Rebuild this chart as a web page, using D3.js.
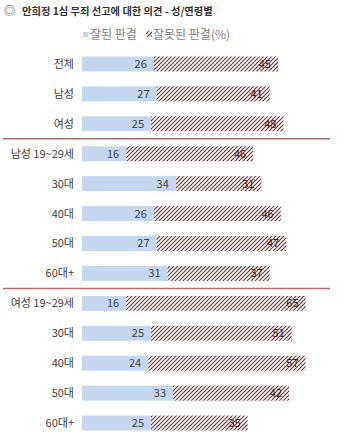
<!DOCTYPE html>
<html><head><meta charset="utf-8">
<script src="https://cdn.jsdelivr.net/npm/d3@7"></script>
<style>body{margin:0;background:#fff}svg{display:block}</style>
</head><body>
<script>
const categories = ["전체","남성","여성","남성 19~29세","30대","40대","50대","60대+","여성 19~29세","30대","40대","50대","60대+"];
const goodValues = [26,27,25,16,34,26,27,31,16,25,24,33,25];
const badValues  = [45,41,48,46,31,46,47,37,65,51,57,42,35];
const seriesNames = ["잘된 판결","잘못된 판결(%)"];
const separatorsAfter = [2,7];
const titleMark = "◎";
const title = "안희정 1심 무죄 선고에 대한 의견 - 성/연령별";

const W=350,H=443;
const font='"Noto Sans CJK KR","Noto Sans",sans-serif';
const svg=d3.select("body").append("svg").attr("width",W).attr("height",H);
const defs=svg.append("defs");
const pat=defs.append("pattern").attr("id","hatch").attr("patternUnits","userSpaceOnUse")
  .attr("width",4).attr("height",4);
pat.append("rect").attr("width",4).attr("height",4).attr("fill","#fff");
pat.append("path").attr("d","M-1,1 l2,-2 M0,4 l4,-4 M3,5 l2,-2")
  .attr("stroke","#6a2e2e").attr("stroke-width",1.1);

const x=d3.scaleLinear().domain([0,90]).range([82,82+248.4]);
const idx=d3.range(categories.length);
const y=d3.scaleBand().domain(idx).range([49,438]).paddingInner(0.5).paddingOuter(0.25);

// title
svg.append("text").attr("x",4).attr("y",15).attr("font-family",font).attr("font-size",11)
  .attr("fill","#333").text(titleMark);
const t=svg.append("text").attr("x",22).attr("y",15).attr("font-family",font).attr("font-size",12)
  .attr("font-weight","bold").attr("fill","#333").text(title);
const tl=t.node().getComputedTextLength();
t.attr("font-size",12*191/tl);

// legend
const lg=svg.append("g").attr("font-family",font).attr("font-size",12).attr("fill","#7f7f7f");
lg.append("rect").attr("x",83).attr("y",32).attr("width",5).attr("height",5).attr("fill","#c5d7ee");
lg.append("text").attr("x",90).attr("y",39).text(seriesNames[0]);
lg.append("rect").attr("x",146).attr("y",31).attr("width",6).attr("height",6).attr("fill","url(#hatch)");
lg.append("text").attr("x",153).attr("y",39).text(seriesNames[1]);

// bars
const g=svg.append("g");
g.selectAll("rect.good").data(idx).join("rect").attr("class","good")
  .attr("x",x(0)).attr("y",i=>y(i)).attr("height",y.bandwidth())
  .attr("width",i=>x(goodValues[i])-x(0)).attr("fill","#c5d7ee");
g.selectAll("rect.bad").data(idx).join("rect").attr("class","bad")
  .attr("x",i=>x(goodValues[i])).attr("y",i=>y(i)).attr("height",y.bandwidth())
  .attr("width",i=>x(goodValues[i]+badValues[i])-x(goodValues[i])).attr("fill","url(#hatch)");

// value labels
g.selectAll("text.gv").data(idx).join("text").attr("class","gv")
  .attr("x",i=>x(goodValues[i])-7).attr("y",i=>y(i)+y.bandwidth()/2).attr("dy","0.36em")
  .attr("text-anchor","end").attr("font-family",font).attr("font-size",11).attr("fill","#404040")
  .text(i=>goodValues[i]);
g.selectAll("text.bv").data(idx).join("text").attr("class","bv")
  .attr("x",i=>x(goodValues[i]+badValues[i])-7).attr("y",i=>y(i)+y.bandwidth()/2).attr("dy","0.36em")
  .attr("text-anchor","end").attr("font-family",font).attr("font-size",11).attr("fill","#4a1515")
  .text(i=>badValues[i]);

// category labels
g.selectAll("text.cat").data(idx).join("text").attr("class","cat")
  .attr("x",74).attr("y",i=>y(i)+y.bandwidth()/2).attr("dy","0.36em")
  .attr("text-anchor","end").attr("font-family",font).attr("font-size",11).attr("fill","#404040")
  .text(i=>categories[i]);

// separators
separatorsAfter.forEach(i=>{
  const yy=(y(i)+y(i+1)+y.bandwidth())/2;
  svg.append("line").attr("x1",3).attr("x2",330).attr("y1",yy).attr("y2",yy)
    .attr("stroke","#a87070").attr("stroke-width",1.5);
});
</script>
</body></html>
